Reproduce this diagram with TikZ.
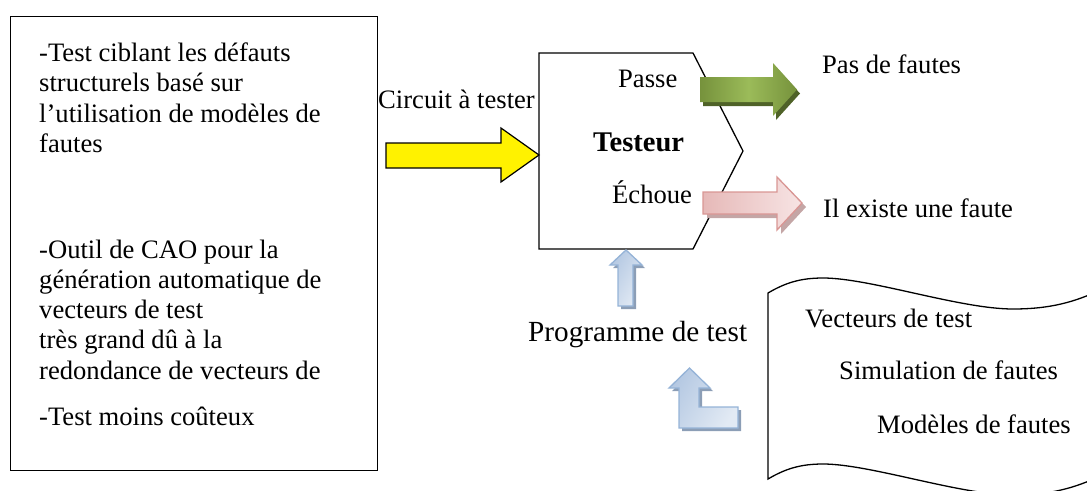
\documentclass[tikz,border=0pt]{standalone}
\usepackage{fontspec}
\setmainfont{Liberation Serif}
\definecolor{gdark}{HTML}{76923C}
\definecolor{glight}{HTML}{9BBB59}
\definecolor{gshadow}{HTML}{4F6228}
\definecolor{pborder}{HTML}{D99694}
\definecolor{plight}{HTML}{F7E4E4}
\definecolor{pdark}{HTML}{E6B9B8}
\definecolor{pshadow}{HTML}{C4A6A6}
\definecolor{bborder}{HTML}{95B3D7}
\definecolor{blight}{HTML}{E2EAF4}
\definecolor{bdark}{HTML}{B4C8E2}
\definecolor{bshadow}{HTML}{8C9EB6}
\begin{document}
\begin{tikzpicture}[x=1pt,y=-1pt,
  txt/.style={inner sep=0pt, anchor=base west, font=\fontsize{26.6}{30.6}\selectfont},
  outline/.style={draw=black, line width=1.3pt, line join=miter},
  yarrow/.style={draw=black, line width=1.2pt, fill=yellow},
  garrow/.style={draw=none, left color=gdark, right color=gdark, middle color=glight},
  gshad/.style={fill=gshadow, draw=none},
  parrow/.style={draw=pborder, line width=1.3pt, left color=pdark, right color=plight},
  pshad/.style={fill=pshadow, draw=none},
  barrow/.style={draw=bborder, line width=1.3pt, shading=axis, left color=bdark, right color=blight, shading angle=60},
  bshad/.style={fill=bshadow, draw=none}]
\useasboundingbox (0,0) rectangle (1087,490);
\clip (0,0) rectangle (1087,490);

% left box
\node[outline, anchor=north west, inner sep=0pt, minimum width=367, minimum height=454] (leftbox) at (10,16) {};
\node[txt] (para1) at (39,61) {\vtop{\baselineskip=30.6pt
  \hbox{-Test ciblant les défauts}
  \hbox{structurels basé sur}
  \hbox{l’utilisation de modèles de}
  \hbox{fautes}}};
\node[txt] (para2) at (39,258) {\vtop{\baselineskip=30.25pt
  \hbox{-Outil de CAO pour la}
  \hbox{génération automatique de}
  \hbox{vecteurs de test}
  \hbox{très grand dû à la}
  \hbox{redondance de vecteurs de}}};
\node[txt] (para3) at (39,425) {-Test moins coûteux};

% tester
\draw[outline] (539,53) -- (693,53) -- (743,151) -- (693,249) -- (539,249) -- cycle;
\coordinate (tin) at (539,155);
\coordinate (tbot) at (626,249);
\node[txt] (passe) at (618,87) {Passe};
\node[txt, font=\bfseries\fontsize{28.5}{32}\selectfont] (testeur) at (593,151) {Testeur};
\node[txt] (echoue) at (612,203) {Échoue};
\node[txt] (circuit) at (378,108) {Circuit à tester};

% yellow input arrow
\draw[yarrow] (386,143) -- (501,143) -- (501,128) -- (tin) -- (501,182) -- (501,168) -- (386,168) -- cycle;

% green arrow
\path[gshad, shift={(3,4)}] (700,77) -- (773,77) -- (773,63) -- (797,89.5) -- (773,116) -- (773,102) -- (700,102) -- cycle;
\path[garrow] (700,77) -- (773,77) -- (773,63) -- (797,89.5) -- (773,116) -- (773,102) -- (700,102) -- cycle;
\node[txt] (pasfautes) at (822,73) {Pas de fautes};

% pink arrow
\path[pshad, shift={(4,4)}] (703,192) -- (777,192) -- (777,177) -- (802,203) -- (777,230) -- (777,214) -- (703,214) -- cycle;
\path[parrow] (703,192) -- (777,192) -- (777,177) -- (802,203) -- (777,230) -- (777,214) -- (703,214) -- cycle;
\node[txt] (faute) at (823,217) {Il existe une faute};

% blue up arrow
\path[bshad, shift={(3,3)}] (618,306) -- (618,265) -- (610,265) -- (626,250) -- (642,265) -- (633,265) -- (633,306) -- cycle;
\path[barrow] (618,306) -- (618,265) -- (610,265) -- (626,250) -- (642,265) -- (633,265) -- (633,306) -- cycle;
\node[txt, font=\fontsize{29.2}{33}\selectfont] (prog) at (528,341) {Programme de test};

% bent-up arrow
\path[bshad, shift={(3,3)}] (679,428) -- (679,388) -- (669,388) -- (689.5,368) -- (710,388) -- (699,388) -- (699,407) -- (738,407) -- (738,428) -- cycle;
\path[barrow] (679,428) -- (679,388) -- (669,388) -- (689.5,368) -- (710,388) -- (699,388) -- (699,407) -- (738,407) -- (738,428) -- cycle;

% wave document
\draw[outline, fill=white] (768,293) .. controls (785,283) and (800,278) .. (823,278)
  .. controls (870,278) and (960,309) .. (1013,309)
  .. controls (1050,309) and (1075,302) .. (1100,290)
  -- (1100,476)
  .. controls (1075,488) and (1050,495) .. (1013,495)
  .. controls (960,495) and (870,464) .. (823,464)
  .. controls (800,464) and (785,469) .. (768,479) -- cycle;
\node[txt] (vect) at (805,327) {Vecteurs de test};
\node[txt] (simu) at (839,379) {Simulation de fautes};
\node[txt] (mod) at (877,433) {Modèles de fautes};
\end{tikzpicture}
\end{document}
